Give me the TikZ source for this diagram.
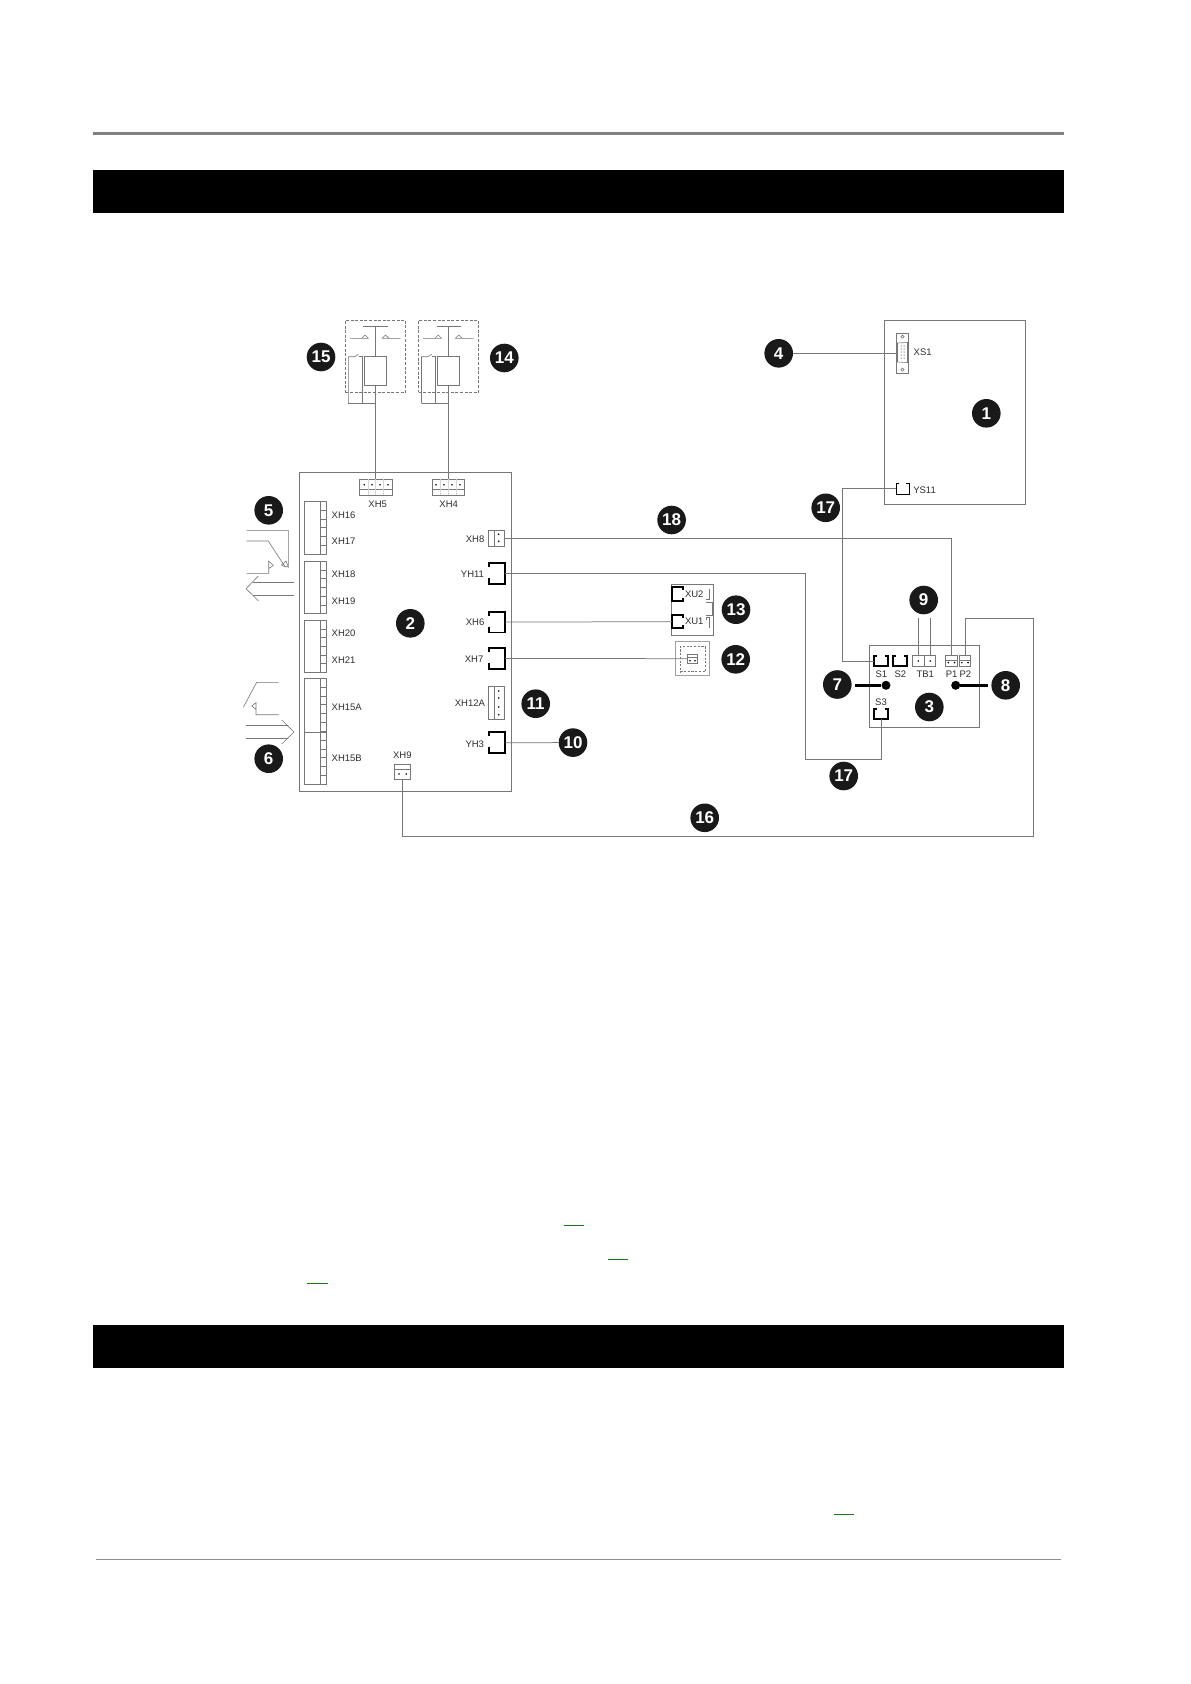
\documentclass[tikz,border=0pt]{standalone}
\usepackage{fontspec}
\setmainfont{Liberation Sans}
\definecolor{wire}{HTML}{777777}
\definecolor{ink}{HTML}{2E2E2E}
\definecolor{rulegrey}{HTML}{808080}
\definecolor{linkgreen}{HTML}{1A7A1A}
\tikzset{
  wireline/.style={draw=wire,line width=0.75pt},
  thinbox/.style={draw=wire,line width=0.7pt},
  brk/.style={draw=black,line width=1.9pt},
  thinbrk/.style={draw=black,line width=0.8pt},
  sketchline/.style={draw=wire,line width=0.6pt},
  lbl/.style={inner sep=0pt,outer sep=0pt,font=\fontsize{9.5}{10}\selectfont,text=ink},
  badge/.style={circle,fill=black!90,text=white,inner sep=0pt,minimum size=28.6pt,font=\fontsize{17}{17}\selectfont\bfseries},
  pindot/.style={circle,fill=black,inner sep=0pt,minimum size=1.8pt},
  leaderdot/.style={circle,fill=black,inner sep=0pt,minimum size=9pt},
  leader/.style={draw=black,line width=2.6pt},
}
\newcommand{\rectnode}[6][]{%
  \pgfmathsetmacro{\rw}{#5-#3}\pgfmathsetmacro{\rh}{#6-#4}%
  \pgfmathsetmacro{\rcx}{(#3+#5)/2}\pgfmathsetmacro{\rcy}{(#4+#6)/2}%
  \node[rectangle,inner sep=0pt,outer sep=0pt,minimum width=\rw pt,minimum height=\rh pt,#1] (#2) at (\rcx,\rcy) {};}
\newcommand{\lab}[4]{\node[lbl,anchor=#1] (l#2) at (#3,#4) {#2};}
% right-facing bracket (XH6 style)
\newcommand{\rbrk}[5]{\rectnode{#1}{#2}{#3}{#4}{#5}
  \draw[brk] ([yshift=-4pt]#1.north west) -- (#1.north west) -- (#1.north east) -- (#1.south east) -- (#1.south west) -- ([yshift=6pt]#1.south west);}
% upward open bracket (S1 style)
\newcommand{\ubrk}[6][brk]{\rectnode{#2}{#3}{#4}{#5}{#6}
  \draw[#1] ([xshift=3pt]#2.north west) -- (#2.north west) -- (#2.south west) -- (#2.south east) -- (#2.north east) -- ([xshift=-3pt]#2.north east);}
% left-facing bracket (XU style)
\newcommand{\lbrk}[5]{\rectnode{#1}{#2}{#3}{#4}{#5}
  \draw[brk] ([yshift=-3pt]#1.north east) -- (#1.north east) -- (#1.north west) -- (#1.south west) -- (#1.south east) -- ([yshift=3pt]#1.south east);}
% terminal strip
\newcommand{\strip}[7]{\rectnode[thinbox]{#1}{#2}{#3}{#4}{#5}
  \draw[thinbox] (#4-6,#3) -- (#4-6,#5);
  \foreach \k in {1,...,#7}{\pgfmathsetmacro{\ty}{#3+(#5-#3)*\k/#6}\draw[thinbox] (#4-6,\ty) -- (#4,\ty);}}
% relay
\newcommand{\relay}[2]{
  \begin{scope}[xshift=#2pt]
    \rectnode[thinbox,dashed,dash pattern=on 3pt off 1.6pt]{frame#1}{345.3}{320}{405.3}{392.3}
    \rectnode[thinbox]{coil#1}{364.3}{356}{386.3}{385.7}
    \coordinate (top#1) at (375.3,326);
    \draw[wireline] (363.3,326) -- (387.7,326);
    \draw[wireline] (top#1) -- (coil#1.north);
    \draw[sketchline] (350,338.3) -- (368.3,338.3) -- (365,335) -- (361.7,338.3);
    \draw[sketchline] (400.5,338.3) -- (382.3,338.3) -- (385.5,335) -- (389,338.3);
    \draw[sketchline] (348.3,403.3) -- (348.3,356.7) -- (354.5,356.7) -- (358.5,354.3);
    \draw[sketchline] (358.5,356.7) -- (362.3,356.7) -- (362.3,403.3);
    \draw[wireline] (348.3,403.3) -- (375.3,403.3);
  \end{scope}}
\begin{document}
\begin{tikzpicture}[x=1pt,y=-1pt]
\useasboundingbox (0,0) rectangle (1191,1684);
\fill[white] (0,0) rectangle (1191,1684);
% page furniture
\fill[rulegrey] (93,132) rectangle (1064,135);
\fill[black] (93,170) rectangle (1064,213);
\fill[black] (93,1325) rectangle (1064,1368);
\fill[rulegrey!90] (96,1558.5) rectangle (1061,1560);
\foreach \xa/\xb/\yy in {564/584/1225,608/628/1259,307/328/1283,834/854/1514}
  \draw[linkgreen,line width=1pt] (\xa,\yy) -- (\xb,\yy);
% boards
\rectnode[thinbox]{board1}{884.7}{320.3}{1025.7}{504.3}
\rectnode[thinbox]{board2}{299.3}{472.3}{511.7}{791.3}
\rectnode[thinbox]{board3}{869.3}{645.7}{979.7}{727.3}
% relays
\relay{a}{0}
\relay{b}{73.2}
% XH5, XH4
\rectnode[thinbox]{xh5}{359.7}{479.3}{392.7}{495}
\rectnode[thinbox]{xh4}{432.5}{479.3}{464.5}{495}
\draw[thinbox] (xh5.west |- 0,489.3) -- (xh5.east |- 0,489.3);
\draw[thinbox] (xh4.west |- 0,489.3) -- (xh4.east |- 0,489.3);
\foreach \px in {364.3,372,380,388}{\node[pindot] (d5-\px) at (\px,484.7) {};}
\foreach \px in {436,444,452,460}{\node[pindot] (d4-\px) at (\px,484.7) {};}
\foreach \px in {367.7,375.5,383.5,440,448,456}{\draw[draw=wire!30,line width=0.4pt] (\px,479.3) -- (\px,495);}
\lab{center}{XH5}{377.7}{504.3}
\lab{center}{XH4}{448.7}{504.3}
\draw[wireline] (coila.south) -- (coila.south |- xh5.north);
\draw[wireline] (coilb.south) -- (coilb.south |- xh4.north);
% left strips
\strip{st1}{304.3}{501.3}{326.3}{554.3}{6}{5}
\strip{st2}{304.3}{561.3}{326.3}{613.7}{6}{5}
\strip{st3}{304.3}{620.3}{326.3}{672.3}{6}{5}
\strip{st4}{304.3}{678.3}{326.3}{784.3}{12}{11}
\draw[thinbox] (st4.west |- 0,732.3) -- (st4.east |- 0,732.3);
\lab{west}{XH16}{331.7}{515.3}
\lab{west}{XH17}{331.7}{541.2}
\lab{west}{XH18}{331.7}{574.3}
\lab{west}{XH19}{331.7}{601.2}
\lab{west}{XH20}{331.7}{633.5}
\lab{west}{XH21}{331.7}{660.2}
\lab{west}{XH15A}{331.7}{706.8}
\lab{west}{XH15B}{331.7}{758}
% right-hand side of board 2
\rectnode[thinbox]{xh8}{488.3}{530.3}{504.7}{546.7}
\draw[thinbox] (494.3,530.3) -- (494.3,546.7);
\node[pindot] (d8a) at (498.7,534.3) {};
\node[pindot] (d8b) at (498.7,541.3) {};
\rbrk{yh11}{488.7}{562.7}{505.3}{583.7}
\rbrk{xh6}{488.7}{611.7}{505.3}{632.5}
\rbrk{xh7}{488.7}{648}{505.3}{669}
\rectnode[thinbox]{xh12a}{488.3}{686.7}{504.7}{719.3}
\draw[thinbox] (494.7,686.7) -- (494.7,719.3);
\foreach \py in {691,698,707,714.7}{\node[pindot] (d12-\py) at (498.7,\py) {};}
\rbrk{yh3}{488.7}{732.3}{505.3}{753}
\lab{east}{XH8}{484.3}{538.8}
\lab{east}{YH11}{484}{574}
\lab{east}{XH6}{484.3}{622.3}
\lab{east}{XH7}{483.3}{659.2}
\lab{east}{XH12A}{485}{702.8}
\lab{east}{YH3}{484}{744}
% XH9
\rectnode[thinbox]{xh9}{394.3}{764}{410.7}{779.3}
\draw[thinbox] (394.3,769.7) -- (410.7,769.7);
\node[pindot] (d9a) at (399,774) {};
\node[pindot] (d9b) at (406.3,774) {};
\lab{center}{XH9}{402.3}{755.7}
% board 1
\rectnode[thinbox]{xs1}{896}{333.3}{908.7}{373.3}
\draw[sketchline] (897.5,343) -- (907.5,342.5) -- (907.5,362.5) -- (897.5,362) -- cycle;
\draw[sketchline] (902.5,336.7) circle (1.6pt);
\draw[sketchline] (902.5,369.7) circle (1.6pt);
\foreach \py in {346,349,352,355,358}{\node[pindot,minimum size=1pt] (s1a\py) at (901,\py) {};\node[pindot,minimum size=1pt] (s1b\py) at (904,\py) {};}
\lab{west}{XS1}{913.7}{352}
\ubrk[thinbrk]{ys11}{896.3}{483.7}{909.3}{494}
\lab{west}{YS11}{913.3}{490}
% board 3
\ubrk{s1}{873.7}{655.7}{888.3}{666.3}
\ubrk{s2}{892.7}{655.7}{907.3}{666.3}
\ubrk{s3}{873.7}{709}{888.3}{719.3}
\rectnode[thinbox]{tb1}{912.7}{655.7}{935.7}{666.3}
\draw[thinbox] (924,655.7) -- (924,666.3);
\node[pindot] (dt1) at (918.3,661) {};
\node[pindot] (dt2) at (930.3,661) {};
\rectnode[thinbox]{p1}{945.7}{655.7}{957.3}{666.3}
\rectnode[thinbox]{p2}{959.1}{655.7}{970.7}{666.3}
\draw[thinbox] (945.7,660) -- (957.3,660);
\draw[thinbox] (959.1,660) -- (970.7,660);
\foreach \px in {948.3,954.6,961.8,968}{\node[pindot] (dp\px) at (\px,662.6) {};}
\lab{center}{S1}{881.3}{674}
\lab{center}{S2}{900.3}{674}
\lab{center}{TB1}{925.3}{674}
\lab{center}{P1}{951.7}{674}
\lab{center}{P2}{965.3}{674}
\lab{center}{S3}{881}{702.7}
% 13
\rectnode[thinbox]{box13}{671.7}{584.3}{713.3}{635.3}
\lbrk{xu2}{672.2}{586.7}{683.3}{600.7}
\lbrk{xu1}{672.2}{615}{683.3}{628.3}
\lab{west}{XU2}{685}{594.3}
\lab{west}{XU1}{685}{621.7}
\draw[sketchline] (709.5,589) -- (709.5,599) -- (706,599);
\draw[sketchline] (706,602.7) -- (712.5,602.7) -- (712.5,615) -- (706,615);
\draw[sketchline] (709.5,617) -- (706,617) -- (706,620);
\draw[sketchline] (709.5,617) -- (709.5,628);
% 12
\rectnode[draw=wire!70,line width=0.6pt]{box12}{675.7}{641.3}{709.7}{675.3}
\rectnode[draw=wire,line width=0.5pt,dashed,dash pattern=on 2.2pt off 1.5pt]{dash12}{680.3}{646.7}{705.3}{671.7}
\rectnode[thinbox]{con12}{687.3}{654}{697.7}{663.3}
\draw[thinbox] (687.3,657) -- (697.7,657);
\node[pindot] (d12a) at (690,660.7) {};
\node[pindot] (d12b) at (695,660.7) {};
% sketch 5
\draw[sketchline] (246.7,530.3) -- (288.3,530.3) -- (288.3,566.7) -- (286,561) -- (281.5,565) -- (285,566.7) -- (288.3,566.7);
\draw[sketchline] (246.7,541) -- (268.3,541) -- (285,566.7);
\draw[sketchline] (246.7,573.3) -- (268.7,573.3) -- (268.7,561) -- (273.3,565.5) -- (268.7,568.5);
\draw[sketchline] (294,582.3) -- (253,582.3);
\draw[sketchline] (294,595.3) -- (253,595.3);
\draw[sketchline] (258.3,576) -- (246,588.7) -- (258.3,600.7);
% sketch 6
\draw[sketchline] (278.7,682.3) -- (256.7,682.3) -- (243.3,707.3);
\draw[sketchline] (278.7,714.7) -- (256,714.7) -- (256,702.7) -- (251.7,706) -- (256,709.3);
\draw[sketchline] (246,725.3) -- (288.3,725.3);
\draw[sketchline] (246,738.3) -- (288.3,738.3);
\draw[sketchline] (281.7,720) -- (294,732) -- (281.7,744);
% badges
\node[badge] (b1) at (986.3,413.3) {1};
\node[badge] (b2) at (410.3,623.3) {2};
\node[badge] (b3) at (929.3,707) {3};
\node[badge] (b4) at (778.7,353.3) {4};
\node[badge] (b5) at (268.7,510.3) {5};
\node[badge] (b6) at (268.7,758.7) {6};
\node[badge] (b7) at (837.3,684.5) {7};
\node[badge] (b8) at (1005.7,685.3) {8};
\node[badge] (b9) at (923.7,600) {9};
\node[badge] (b10) at (573,742.6) {10};
\node[badge] (b11) at (535.7,703.7) {11};
\node[badge] (b12) at (735.7,659.3) {12};
\node[badge] (b13) at (736,609.7) {13};
\node[badge] (b14) at (504.3,358) {14};
\node[badge] (b15) at (321,357) {15};
\node[badge] (b16) at (704.7,817.8) {16};
\node[badge] (b17a) at (825.7,507.8) {17};
\node[badge] (b17b) at (843.7,776) {17};
\node[badge] (b18) at (671.6,520) {18};
% connectors
\coordinate (c17a) at (842.5,570);
\coordinate (c17b) at (805.3,759.3);
\coordinate (c16a) at (1033.7,836.3);
\coordinate (c16b) at (1033.7,618.3);
\coordinate (t1) at (918.3,618.3);
\coordinate (t2) at (930.3,618.3);
\draw[wireline] (b4) -- (xs1);
\draw[wireline] (ys11.west) -| (c17a) |- (s1.west);
\draw[wireline] (xh8.east) -| (p1.north);
\draw[wireline] (yh11.east) -| (c17b) -| (s3.south);
\draw[wireline] (xh6.east) -- (xu1.west);
\draw[wireline] (xh7.east) -- (con12.west);
\draw[wireline] (yh3.east) -- (b10);
\draw[wireline] (xh9.south) |- (c16a) -- (c16b) -| (p2.north);
\draw[wireline] (t1) -- (t1 |- tb1.north);
\draw[wireline] (t2) -- (t2 |- tb1.north);
% thick leaders
\node[leaderdot] (dot7) at (886,685.3) {};
\node[leaderdot] (dot8) at (955.7,685.3) {};
\draw[leader,shorten <=3.5pt] (b7.east |- dot7) -- (dot7);
\draw[leader,shorten <=3.5pt] (b8.west |- dot8) -- (dot8);
\end{tikzpicture}
\end{document}
